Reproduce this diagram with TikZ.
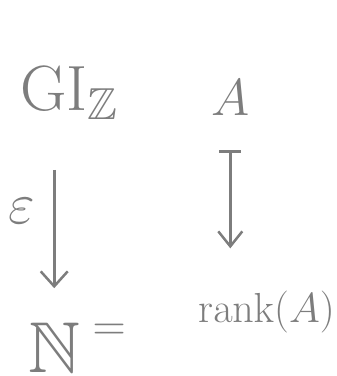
\RequirePackage{fix-cm}
\documentclass[tikz,border=0pt]{standalone}
\usepackage{amssymb}
\usetikzlibrary{arrows.meta, calc, positioning}
\definecolor{pencilgray}{RGB}{125,125,125}

\begin{document}
\begin{tikzpicture}[
    x=1pt, y=-1pt,
    sym/.style={anchor=base west, inner sep=0pt, text=pencilgray},
    arrow/.style={-{Straight Barb[length=15pt, width=27pt, line width=2.5pt]}, line width=2.6pt, color=pencilgray},
    mapsto/.style={{Bar[width=22pt, line width=2.8pt]}-{Straight Barb[length=15pt, width=24pt, line width=2.5pt]}, line width=2.6pt, color=pencilgray}
]
\useasboundingbox (0,0) rectangle (337,376);
\node[sym, font=\fontsize{64}{64}\selectfont] (grp) at (20,110) {$\mathrm{GI}_{\mathbb{Z}}$};
\node[sym, font=\fontsize{52}{52}\selectfont] (obj) at (211,115) {$A$};
\node[sym, font=\fontsize{72}{72}\selectfont] (nat) at (28,372) {$\mathbb{N}$};
\node[sym, font=\fontsize{46}{46}\selectfont, anchor=north west] (eqs) at ([xshift=12pt, yshift=-2pt]nat.north east) {$=$};
\node[sym, font=\fontsize{42}{42}\selectfont] (rnk) at (198,322) {$\mathrm{rank}(A)$};
\draw[arrow, shorten <=50pt, shorten >=34pt] (grp.south -| nat.north) -- node[left=14pt, pos=0.45, text=pencilgray, font=\fontsize{58}{58}\selectfont] (eps) {$\varepsilon$} (nat.north);
\draw[mapsto, shorten <=35pt, shorten >=42pt] (obj.south) -- (obj.south |- rnk.north);
\end{tikzpicture}
\end{document}
